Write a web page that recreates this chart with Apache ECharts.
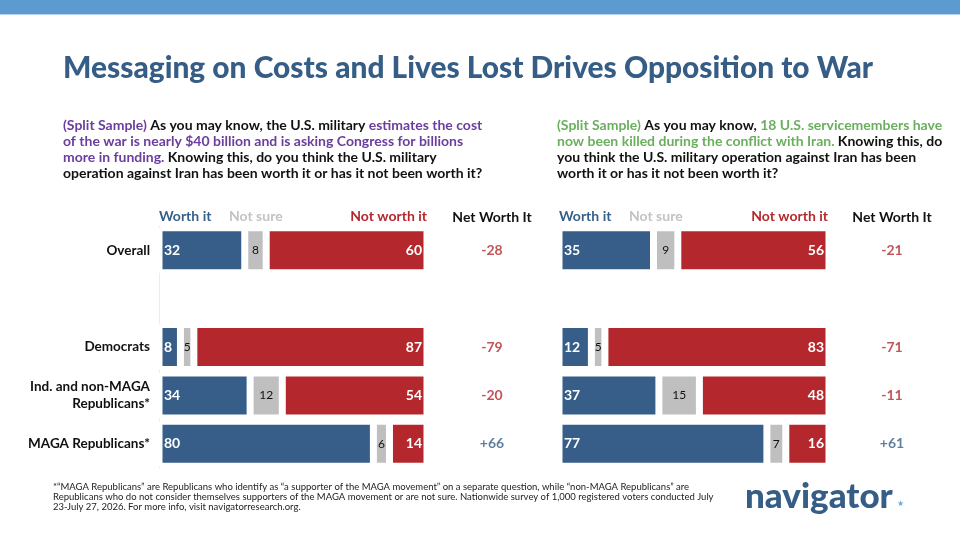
<!DOCTYPE html>
<html>
<head>
<meta charset="utf-8">
<script src="https://cdn.jsdelivr.net/npm/echarts@6/dist/echarts.min.js"></script>
<style>
  html, body { margin: 0; padding: 0; background: #fff; }
  #chart { width: 960px; height: 540px; }
</style>
</head>
<body>
<div id="chart"></div>
<script>
// Split-sample worth-it question: cost message (left) vs lives-lost message (right)

const CATEGORIES   = ["Overall", "", "Democrats", "Ind. and non-MAGA\nRepublicans*", "MAGA Republicans*"];
const COST_WORTH   = [32, null, 8, 34, 80];
const COST_UNSURE  = [8, null, 5, 12, 6];
const COST_NOT     = [60, null, 87, 54, 14];
const COST_NET     = [-28, null, -79, -20, 66];
const LIVES_WORTH  = [35, null, 12, 37, 77];
const LIVES_UNSURE = [9, null, 5, 15, 7];
const LIVES_NOT    = [56, null, 83, 48, 16];
const LIVES_NET    = [-21, null, -71, -11, 61];
const HEADERS      = ["Worth it", "Not sure", "Not worth it", "Net Worth It"];

const TITLE = "Messaging on Costs and Lives Lost Drives Opposition to War";
const FOOT_LINES = [
  "*\u201cMAGA Republicans\u201d are Republicans who identify as \u201ca supporter of the MAGA movement\u201d on a separate question, while \u201cnon-MAGA Republicans\u201d are",
  "Republicans who do not consider themselves supporters of the MAGA movement or are not sure. Nationwide survey of 1,000 registered voters conducted July",
  "23-July 27, 2026. For more info, visit navigatorresearch.org.",
];

const BLUE  = "#365e88";
const GRAY  = "#bfbfbf";
const RED   = "#b4282d";
const FONT  = "Lato, 'Open Sans', sans-serif";

const GRID_TOP = 226, GRID_H = 242;

// squeeze text to a target width (reference uses condensed faces)
const ctx = document.createElement("canvas").getContext("2d");
function fitScale(txt, font, target) {
  ctx.font = font;
  return target / ctx.measureText(txt).width;
}
const TITLE_FONT = `900 30px ${FONT}`;
const titleScale = fitScale(TITLE, TITLE_FONT, 810);

const chart = echarts.init(document.getElementById("chart"), null, { renderer: "canvas" });

// ── series helpers ────────────────────────────────────────────────────
function seg(name, data, color, grid, pos, txtClr, size, weight) {
  return {
    name, type: "bar", stack: "s" + grid, xAxisIndex: grid, yAxisIndex: grid,
    data, barWidth: 45, silent: true,
    itemStyle: { color, borderColor: "#fff", borderWidth: 3.5 },
    label: {
      show: true, position: pos, distance: 5,
      color: txtClr, fontSize: size, fontWeight: weight, fontFamily: FONT,
      formatter: p => p.value == null ? "" : p.value,
    },
  };
}

function net(data, grid) {
  return {
    type: "scatter", xAxisIndex: grid, yAxisIndex: grid, symbolSize: 0, silent: true,
    data: data.map((v, i) => v == null ? null : {
      value: [0.5, i], net: v, label: { color: v > 0 ? BLUE : RED },
    }),
    label: {
      show: true, position: "inside", fontFamily: FONT, fontSize: 14, fontWeight: "bold",
      formatter: p => (p.data.net > 0 ? "+" : "") + p.data.net,
    },
    itemStyle: { color: "transparent" },
  };
}

function yAx(grid, show) {
  return {
    type: "category", gridIndex: grid, data: CATEGORIES, inverse: true,
    axisLine: { show: show, lineStyle: { color: "#ececec" } }, axisTick: { show: false },
    axisLabel: {
      show: show, color: "#111", fontSize: 13.5, fontFamily: FONT, fontWeight: "bold",
      align: "right", margin: 9, lineHeight: 17,
    },
  };
}
function xAx(grid, max) {
  return { type: "value", gridIndex: grid, min: 0, max, show: false };
}

// ── header text ───────────────────────────────────────────────────────
function hdr(x, txt, color, align) {
  return {
    type: "text", x, y: 216,
    style: { text: txt, fill: color, font: `bold 14px ${FONT}`, align, verticalAlign: "middle" },
  };
}
const headerGfx = [];
for (const [x0, x1, xn] of [[159, 427, 492], [559, 828, 892]]) {
  headerGfx.push(hdr(x0, HEADERS[0], BLUE, "left"));
  headerGfx.push(hdr(x0 + 70, HEADERS[1], "#c3c3c3", "left"));
  headerGfx.push(hdr(x1, HEADERS[2], RED, "right"));
  headerGfx.push({ type: "text", x: xn, y: 217,
    style: { text: HEADERS[3], fill: "#111", font: `bold 14px ${FONT}`, align: "center", verticalAlign: "middle" } });
}

const qRich = {
  k: { fill: "#111", font: `bold 14px ${FONT}` },
  p: { fill: "#6a3d9e", font: `bold 14px ${FONT}` },
  g: { fill: "#6aaf5d", font: `bold 14px ${FONT}` },
};

chart.setOption({
  backgroundColor: "#fff", animation: false,
  grid: [
    { left: 159, width: 268, top: GRID_TOP, height: GRID_H },
    { left: 559, width: 270, top: GRID_TOP, height: GRID_H },
    { left: 462, width: 60, top: GRID_TOP, height: GRID_H },
    { left: 862, width: 60, top: GRID_TOP, height: GRID_H },
  ],
  xAxis: [xAx(0, 100), xAx(1, 100), xAx(2, 1), xAx(3, 1)],
  yAxis: [yAx(0, true), yAx(1, false), yAx(2, false), yAx(3, false)],
  series: [
    seg("Worth it", COST_WORTH, BLUE, 0, "insideLeft", "#fff", 14, "bold"),
    seg("Not sure", COST_UNSURE, GRAY, 0, "inside", "#111", 12, "normal"),
    seg("Not worth it", COST_NOT, RED, 0, "insideRight", "#fff", 14, "bold"),
    seg("Worth it", LIVES_WORTH, BLUE, 1, "insideLeft", "#fff", 14, "bold"),
    seg("Not sure", LIVES_UNSURE, GRAY, 1, "inside", "#111", 12, "normal"),
    seg("Not worth it", LIVES_NOT, RED, 1, "insideRight", "#fff", 14, "bold"),
    net(COST_NET, 2),
    net(LIVES_NET, 3),
  ],
  graphic: [
    { type: "rect", shape: { x: 0, y: 0, width: 960, height: 14 }, style: { fill: "#5b9bcf" } },
    { type: "rect", shape: { x: 0, y: 14, width: 960, height: 1 }, style: { fill: "#b7d2ea" } },
    {
      type: "group", x: 63, y: 68, scaleX: titleScale,
      children: [{ type: "text", style: { text: TITLE, fill: "#355d86", font: TITLE_FONT, verticalAlign: "middle" } }],
    },
    {
      type: "text", x: 63, y: 117,
      style: {
        text:
          "{p|(Split Sample)} {k|As you may know, the U.S. military} {p|estimates the cost}\n" +
          "{p|of the war is nearly $40 billion and is asking Congress for billions}\n" +
          "{p|more in funding.} {k|Knowing this, do you think the U.S. military}\n" +
          "{k|operation against Iran has been worth it or has it not been worth it?}",
        rich: qRich, lineHeight: 16,
      },
    },
    {
      type: "text", x: 557, y: 117,
      style: {
        text:
          "{g|(Split Sample)} {k|As you may know,} {g|18 U.S. servicemembers have}\n" +
          "{g|now been killed during the conflict with Iran.} {k|Knowing this, do}\n" +
          "{k|you think the U.S. military operation against Iran has been}\n" +
          "{k|worth it or has it not been worth it?}",
        rich: qRich, lineHeight: 16,
      },
    },
    ...headerGfx,
    {
      type: "text", x: 53, y: 482,
      style: { text: FOOT_LINES.join("\n"), fill: "#222", fontSize: 9.5, fontFamily: "Lato", lineHeight: 10 },
    },
    {
      type: "text", x: 745, y: 497,
      style: { text: "navigator", fill: "#355d86", font: "900 35px Lato, sans-serif", verticalAlign: "middle" },
    },
    {
      type: "text", x: 897, y: 504,
      style: { text: "\u2605", fill: "#6fa8dc", font: "8px 'DejaVu Sans'", verticalAlign: "middle" },
    },
  ],
});
</script>
</body>
</html>
